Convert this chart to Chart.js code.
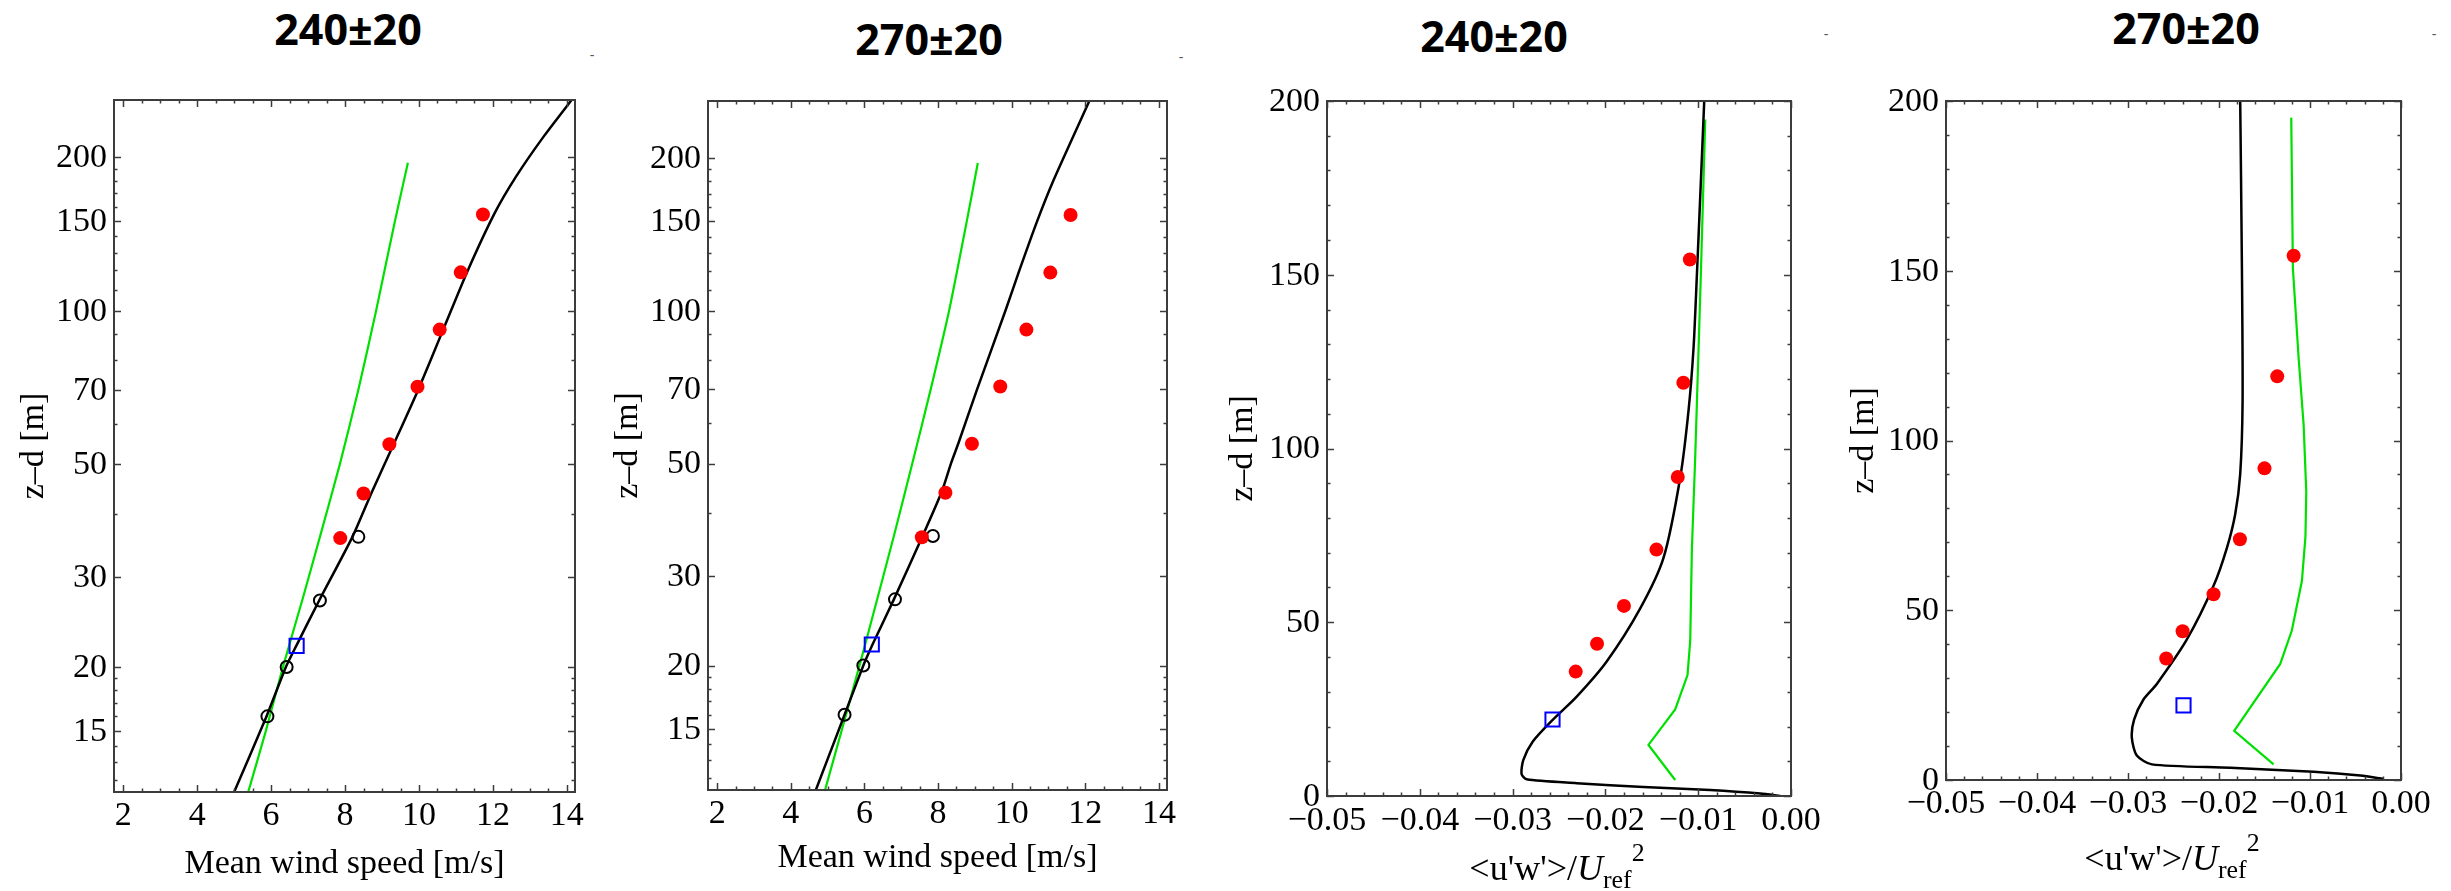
<!DOCTYPE html>
<html>
<head>
<meta charset="utf-8">
<script src="https://cdn.jsdelivr.net/npm/chart.js@4.4.0/dist/chart.umd.min.js"></script>
<style>
  html, body { margin: 0; padding: 0; background: #fff; }
  body { position: relative; width: 2451px; height: 891px; overflow: hidden; }
  canvas { position: absolute; }
  .ttl { position: absolute; transform: translate(-50%, -50%); font: bold 43px "Open Sans", "Liberation Sans", sans-serif; line-height: 1; white-space: nowrap; color: #000; }
  .dash { position: absolute; transform: translate(-50%, -50%); font: 14px "Liberation Sans", sans-serif; line-height: 1; color: #555; }
  .xlab { position: absolute; transform: translate(-50%, -50%); font: 36px "Liberation Serif", serif; line-height: 1; white-space: nowrap; color: #000; }
  .xlab sub { font-size: .72em; position: relative; top: .3em; vertical-align: baseline; }
  .xlab sup { font-size: .72em; position: relative; top: -.75em; vertical-align: baseline; }
</style>
</head>
<body>
<div class="ttl" style="left:348px;top:28px">240±20</div>
<div class="ttl" style="left:929px;top:38px">270±20</div>
<div class="ttl" style="left:1494px;top:35px">240±20</div>
<div class="ttl" style="left:2186px;top:27px">270±20</div>
<div class="dash" style="left:592px;top:55px">-</div>
<div class="dash" style="left:1181px;top:57px">-</div>
<div class="dash" style="left:1826px;top:34px">-</div>
<div class="dash" style="left:2434px;top:34px">-</div>

<canvas id="c1"></canvas>
<canvas id="c2"></canvas>
<canvas id="c3"></canvas>
<canvas id="c4"></canvas>

<div class="xlab" style="left:1557px;top:868px">&lt;u'w'&gt;/<i>U</i><sub>ref</sub><sup>2</sup></div>
<div class="xlab" style="left:2172px;top:858px">&lt;u'w'&gt;/<i>U</i><sub>ref</sub><sup>2</sup></div>

<script>
// heights of the point measurements (same in every panel)
const obsZ = [35.8, 43.8, 54.7, 70.9, 91.8, 118.9, 154.4];
const ringZ = [16, 20, 27, 36];
const mastZ = [22];

// mean wind speed, 240±20
const u240Obs = [7.87, 8.50, 9.20, 9.96, 10.56, 11.13, 11.73];
const u240Ring = [5.90, 6.42, 7.32, 8.36];
const u240Mast = [6.69];
const u240SimZ = [11.37, 15.9, 20, 22, 27, 36, 44, 55, 70, 92, 119, 155, 183, 220, 262];
const u240Sim = [5.00, 5.86, 6.40, 6.68, 7.30, 8.20, 8.72, 9.33, 9.98, 10.66, 11.30, 12.04, 12.62, 13.38, 14.18];
const u240RefZ = [11.37, 15, 20, 27, 36, 50, 70, 100, 150, 195];
const u240Ref = [5.38, 5.86, 6.32, 6.84, 7.32, 7.86, 8.36, 8.84, 9.35, 9.70];

// mean wind speed, 270±20
const u270Obs = [7.56, 8.20, 8.92, 9.69, 10.40, 11.05, 11.60];
const u270Ring = [5.46, 5.97, 6.83, 7.86];
const u270Mast = [6.20];
const u270SimZ = [11.37, 16, 20, 22, 27, 36, 44, 50, 55, 70, 100, 119, 150, 181, 260];
const u270Sim = [4.68, 5.46, 5.97, 6.22, 6.80, 7.58, 8.10, 8.35, 8.56, 9.06, 9.83, 10.19, 10.69, 11.14, 12.12];
const u270RefZ = [11.37, 16, 22, 36, 50, 70, 100, 150, 195.5];
const u270Ref = [4.93, 5.50, 6.02, 6.80, 7.30, 7.80, 8.30, 8.78, 9.08];

// momentum flux, 240±20
const f240Obs = [-0.0232, -0.0209, -0.0180, -0.0145, -0.0122, -0.0116, -0.0109];
const f240Mast = [-0.0257];
const f240SimZ = [200, 177, 150, 129, 111, 91.6, 68.5, 53.9, 38.7, 28.6, 21.9, 15.6, 10.3, 6.3, 4.8, 3.7, 2.6, 1.7, 0.7, 0];
const f240Sim = [-0.00935, -0.00971, -0.01014, -0.0105, -0.01104, -0.01194, -0.01374, -0.01626, -0.01986, -0.02309, -0.02568, -0.02784, -0.02885, -0.02903, -0.02849, -0.02309, -0.0159, -0.00871, -0.00331, -0.00115];
const f240RefZ = [194.7, 150.4, 97.6, 71.1, 44.7, 34.8, 24.9, 14.7, 4.6];
const f240Ref = [-0.00924, -0.00971, -0.01032, -0.01068, -0.01086, -0.01115, -0.01248, -0.01536, -0.01248];

// momentum flux, 270±20
const f270Obs = [-0.0258, -0.0240, -0.0206, -0.0177, -0.0150, -0.0136, -0.0118];
const f270Mast = [-0.0239];
const f270SimZ = [200, 150.7, 111.2, 90.1, 78.3, 68.4, 57.2, 41.4, 28.3, 23.7, 17.8, 12.5, 7.2, 4.6, 3.6, 2.4, 1.3, 0.3];
const f270Sim = [-0.01767, -0.01748, -0.01741, -0.01767, -0.01822, -0.01913, -0.0206, -0.02353, -0.02683, -0.0283, -0.02933, -0.02958, -0.02903, -0.02738, -0.01877, -0.0096, -0.00447, -0.0019];
const f270RefZ = [195.1, 150.7, 124.3, 104.6, 84.9, 71.7, 58.6, 44.1, 34.2, 14.5, 4.6];
const f270Ref = [-0.01206, -0.01188, -0.01125, -0.0107, -0.01041, -0.0105, -0.01089, -0.01199, -0.01327, -0.01833, -0.014];

// axis ticks
const logTicks = [15, 20, 30, 50, 70, 100, 150, 200];
const logMinor = [12, 13, 14, 16, 17, 18, 19, 40, 60, 80, 90, 110, 120, 130, 140, 160, 170, 180, 190];
const speedTicks = [2, 4, 6, 8, 10, 12, 14];
const stressTicks = [-0.05, -0.04, -0.03, -0.02, -0.01, 0];
const heightTicks = [0, 50, 100, 150, 200];

const speedMinor = [];
for (let v = 2.5; v < 14; v += 0.5) if (v % 2 !== 0) speedMinor.push(v);
const stressMinor = [];
for (let i = 1; i < 25; i++) if (i % 5 !== 0) stressMinor.push(-0.05 + i * 0.002);
const heightMinor = [];
for (let v = 10; v < 200; v += 10) if (v % 50 !== 0) heightMinor.push(v);

const pts = (xs, ys) => xs.map((x, i) => ({ x: x, y: ys[i] }));

const serif = '"Liberation Serif", "Times New Roman", serif';
const labelFont = '34px ' + serif;

// frame, inward ticks on all four sides and the tick labels (Mathematica look)
const frameTicks = {
  id: 'frameTicks',
  afterDraw(chart, args, o) {
    const { ctx, chartArea: a, scales: { x, y } } = chart;
    ctx.save();
    ctx.strokeStyle = '#3c3c3c';
    ctx.lineWidth = 1.5;
    ctx.beginPath();
    const xt = (vals, len) => vals.forEach(v => {
      const p = Math.round(x.getPixelForValue(v)) + 0.5;
      ctx.moveTo(p, a.bottom); ctx.lineTo(p, a.bottom - len);
      ctx.moveTo(p, a.top); ctx.lineTo(p, a.top + len);
    });
    const yt = (vals, len) => vals.forEach(v => {
      const p = Math.round(y.getPixelForValue(v)) + 0.5;
      ctx.moveTo(a.left, p); ctx.lineTo(a.left + len, p);
      ctx.moveTo(a.right, p); ctx.lineTo(a.right - len, p);
    });
    xt(o.xMajor, 7); xt(o.xMinor, 3.5);
    yt(o.yMajor, 7); yt(o.yMinor, 3.5);
    ctx.stroke();
    ctx.lineWidth = 2;
    ctx.strokeRect(a.left, a.top, a.right - a.left, a.bottom - a.top);

    ctx.fillStyle = '#000';
    ctx.font = labelFont;
    ctx.textBaseline = 'middle';
    ctx.textAlign = 'center';
    o.xMajor.forEach(v => ctx.fillText(o.xFmt(v), x.getPixelForValue(v), a.bottom + o.xOff));
    ctx.textAlign = 'right';
    o.yMajor.forEach(v => ctx.fillText(String(v), a.left - 7, y.getPixelForValue(v) + 1));
    ctx.restore();
  }
};

const PADL = 110, PADT = 20, PADR = 40, PADB = 95;

function makePanel(id, box, sets, ax) {
  const cv = document.getElementById(id);
  cv.width = box.r - box.l + PADL + PADR;
  cv.height = box.b - box.t + PADT + PADB;
  cv.style.left = (box.l - PADL) + 'px';
  cv.style.top = (box.t - PADT) + 'px';

  new Chart(cv.getContext('2d'), {
    type: 'scatter',
    data: {
      datasets: [
        { data: sets.obs, pointStyle: 'circle', pointRadius: 7, backgroundColor: '#ff0000', borderColor: '#ff0000', borderWidth: 0 },
        { data: sets.ring || [], pointStyle: 'circle', pointRadius: 6, backgroundColor: 'rgba(0,0,0,0)', borderColor: '#000', borderWidth: 2 },
        { data: sets.mast, pointStyle: 'rect', pointRadius: 10, backgroundColor: 'rgba(0,0,0,0)', borderColor: '#0000ff', borderWidth: 2 },
        { data: sets.sim, showLine: true, borderColor: '#000', borderWidth: 2.5, pointRadius: 0, tension: sets.simTension },
        { data: sets.ref, showLine: true, borderColor: '#00e000', borderWidth: 2.2, pointRadius: 0, tension: sets.refTension }
      ]
    },
    options: {
      responsive: false,
      animation: false,
      devicePixelRatio: 1,
      layout: { padding: { left: 0, top: PADT, right: PADR, bottom: 0 } },
      plugins: {
        legend: { display: false },
        tooltip: { enabled: false },
        frameTicks: {
          xMajor: ax.xTicks, xMinor: ax.xMinor, yMajor: ax.yTicks, yMinor: ax.yMinor,
          xFmt: ax.xFmt, xOff: ax.xOff
        }
      },
      scales: {
        x: {
          type: 'linear',
          min: ax.xMin, max: ax.xMax,
          grid: { display: false, drawTicks: false },
          border: { display: false },
          afterBuildTicks: s => { s.ticks = ax.xTicks.map(v => ({ value: v })); },
          afterFit: s => { s.height = PADB; },
          ticks: { display: false },
          title: {
            display: !!ax.xTitle, text: ax.xTitle, color: '#000',
            font: { family: serif, size: 34 },
            padding: { top: 0, bottom: ax.xTitlePad }
          }
        },
        y: {
          type: ax.yType,
          min: ax.yMin, max: ax.yMax,
          grid: { display: false, drawTicks: false },
          border: { display: false },
          afterBuildTicks: s => { s.ticks = ax.yTicks.map(v => ({ value: v })); },
          afterFit: s => { s.width = PADL; },
          ticks: { display: false },
          title: {
            display: true, text: 'z–d [m]', color: '#000',
            font: { family: serif, size: 34 },
            padding: { top: ax.yTitlePad, bottom: 0 }
          }
        }
      }
    },
    plugins: [frameTicks]
  });
}

const stressFmt = v => (v < 0 ? '\u2212' : '') + Math.abs(v).toFixed(2);
const speedAxes = (xOff, titlePad, yTitlePad) => ({
  xMin: 1.75, xMax: 14.22, xTicks: speedTicks, xMinor: speedMinor, xFmt: v => String(v), xOff: xOff,
  xTitle: 'Mean wind speed [m/s]', xTitlePad: titlePad,
  yType: 'logarithmic', yMin: 11.37, yMax: 259, yTicks: logTicks, yMinor: logMinor, yTitlePad: yTitlePad
});
const stressAxes = (xOff, yTitlePad) => ({
  xMin: -0.05, xMax: 0, xTicks: stressTicks, xMinor: stressMinor, xFmt: stressFmt, xOff: xOff,
  xTitle: '', xTitlePad: 0,
  yType: 'linear', yMin: 0, yMax: 200, yTicks: heightTicks, yMinor: heightMinor, yTitlePad: yTitlePad
});

makePanel('c1', { l: 114, r: 575, t: 100, b: 792 }, {
  obs: pts(u240Obs, obsZ), ring: pts(u240Ring, ringZ), mast: pts(u240Mast, mastZ),
  sim: pts(u240Sim, u240SimZ), ref: pts(u240Ref, u240RefZ), simTension: 0.2, refTension: 0.2
}, speedAxes(24, 3, 9.6));

makePanel('c2', { l: 708, r: 1167, t: 101, b: 790 }, {
  obs: pts(u270Obs, obsZ), ring: pts(u270Ring, ringZ), mast: pts(u270Mast, mastZ),
  sim: pts(u270Sim, u270SimZ), ref: pts(u270Ref, u270RefZ), simTension: 0.2, refTension: 0.2
}, speedAxes(24, 6.6, 9.6));

makePanel('c3', { l: 1327, r: 1791, t: 101, b: 796 }, {
  obs: pts(f240Obs, obsZ), mast: pts(f240Mast, mastZ),
  sim: pts(f240Sim, f240SimZ), ref: pts(f240Ref, f240RefZ), simTension: 0.25, refTension: 0
}, stressAxes(25, 5.6));

makePanel('c4', { l: 1946, r: 2401, t: 101, b: 780 }, {
  obs: pts(f270Obs, obsZ), mast: pts(f270Mast, mastZ),
  sim: pts(f270Sim, f270SimZ), ref: pts(f270Ref, f270RefZ), simTension: 0.25, refTension: 0
}, stressAxes(24, 7.3));
</script>
</body>
</html>
